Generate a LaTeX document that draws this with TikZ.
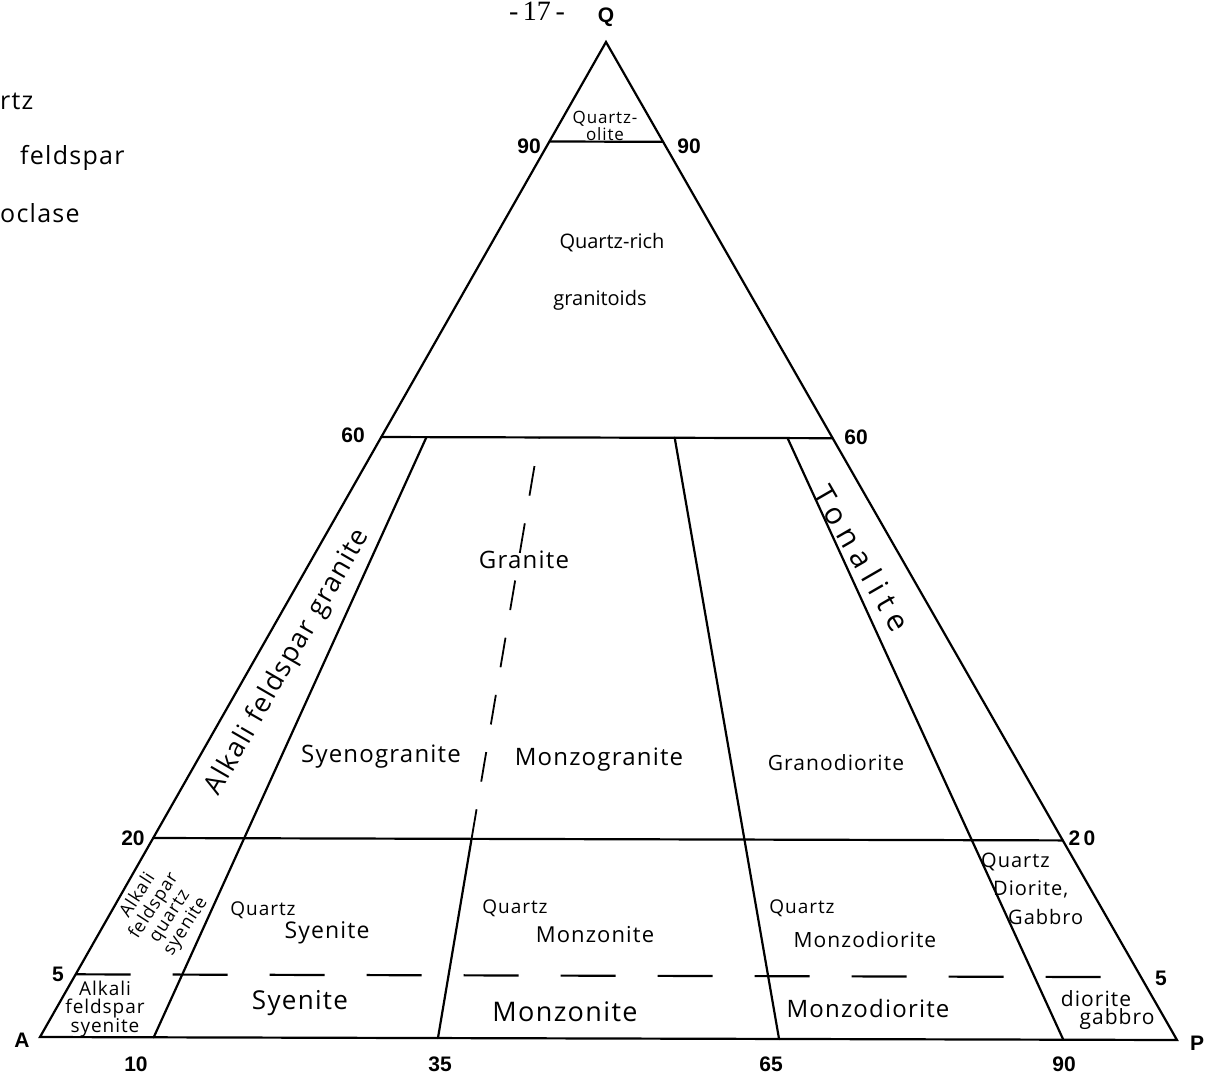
\documentclass[tikz,border=0pt]{standalone}
\usepackage{fontspec}
\setmainfont{Liberation Serif}
\newfontfamily\numfont{Liberation Sans}
\newfontfamily\handfont{Open Sans}
\newfontfamily\handsp[LetterSpace=5]{Open Sans}
\newfontfamily\handwide[LetterSpace=25]{Open Sans}
\usetikzlibrary{calc}
\newcommand\fs[1]{\fontsize{#1}{#1}\selectfont}
\newcommand\wsp{\hspace{0.35em}}
\begin{document}
\begin{tikzpicture}[x=1pt,y=-1pt,
  edge/.style={line width=2.2pt, line cap=round},
  num/.style={font=\numfont\bfseries\fs{21}, inner sep=0pt},
  hand/.style={font=\handfont\fs{20}, inner sep=0pt, align=center},
  sp/.style={font=\handsp\fontsize{#1}{#1}\selectfont, inner sep=0pt, align=center},
  legend/.style={font=\handsp\fs{25}, inner sep=0pt, anchor=west},
]
\useasboundingbox (0,0) rectangle (1209,1078);
% corners
\coordinate (A) at (40,1037);
\coordinate (P) at (1177,1040);
\coordinate (Q) at (606,42);
% levels on the sides
\coordinate (L90) at ($(A)!0.9!(Q)$);   \coordinate (R90) at ($(P)!0.9!(Q)$);
\coordinate (L60) at ($(A)!0.603!(Q)$); \coordinate (R60) at ($(P)!0.603!(Q)$);
\coordinate (L20) at ($(A)!0.2!(Q)$);   \coordinate (R20) at ($(P)!0.2!(Q)$);
\coordinate (L5)  at ($(A)!0.063!(Q)$); \coordinate (R5)  at ($(P)!0.063!(Q)$);
% base points and top points
\coordinate (B10) at ($(A)!0.1!(P)$);  \coordinate (T10) at ($(B10)!0.603!(Q)$);
\coordinate (B35) at ($(A)!0.35!(P)$); \coordinate (T35) at ($(B35)!0.603!(Q)$);
\coordinate (M35) at ($(B35)!0.2!(Q)$);
\coordinate (B65) at ($(A)!0.65!(P)$); \coordinate (T65) at ($(B65)!0.603!(Q)$);
\coordinate (B90) at ($(A)!0.9!(P)$);  \coordinate (T90) at ($(B90)!0.603!(Q)$);

% triangle
\draw[edge] (A) -- (Q) -- (P) -- cycle;
% horizontal lines
\draw[edge] (L90) -- (R90);
\draw[edge] (L60) -- (R60);
\draw[edge] (L20) -- (R20);
\draw[edge, line cap=butt, dash pattern=on 55pt off 42pt] (L5) -- (R5);
% radial lines
\draw[edge] (B10) -- (T10);
\draw[edge] (B35) -- (M35);
\draw[edge, line width=1.8pt, line cap=butt, dash pattern=on 30pt off 28pt] (M35) -- (T35);
\draw[edge] (B65) -- (T65);
\draw[edge] (B90) -- (T90);

% page number
\node[font=\fs{28}, inner sep=0pt] (pg) at (537,11) {-\,17\,-};

% legend (cut at the left edge)
\node[legend] (lg1) at (0,101) {rtz};
\node[legend] (lg2) at (20,158) {feldspar};
\node[legend] (lg3) at (0,213) {oclase};

% corner and scale labels
\node[num] (lQ) at (606,17) {Q};
\node[num] (lA) at (22,1040) {A};
\node[num] (lP) at (1197,1043) {P};
\node[num] (n90l) at (529,146) {90};
\node[num] (n90r) at (689,146) {90};
\node[num] (n60l) at (353,435) {60};
\node[num] (n60r) at (856,437) {60};
\node[num] (n20l) at (133,838) {20};
\node[num] (n20r) at (1082,838) {2\,0};
\node[num] (n5l) at (58,974) {5};
\node[num] (n5r) at (1161,978) {5};
\node[num] (b10) at (136,1064) {10};
\node[num] (b35) at (440,1064) {35};
\node[num] (b65) at (771,1064) {65};
\node[num] (b90) at (1064,1064) {90};

% field names
\node[sp=17, font=\handsp\fontsize{17}{17}\selectfont] (qolite) at (605,126) {Quartz-\\olite};
\node[hand] (qrich) at (612,243) {Quartz-rich};
\node[hand] (grt) at (600,300) {granitoids};
\node[sp=24] (granite) at (524,560) {Granite};
\node[sp=27, rotate=60] (afg) at (288,662) {Alkali\wsp feldspar\wsp granite};
\node[font=\handwide\fs{30}, inner sep=0pt, rotate=-60] (ton) at (862,558) {Tonalite};
\node[sp=24] (syg) at (381,757) {Syenogranite};
\node[sp=24] (mzg) at (599,760) {Monzogranite};
\node[sp=21] (grd) at (836,763) {Granodiorite};
\node[sp=18, font=\handsp\fontsize{18}{19}\selectfont, rotate=57] (afqs) at (162,911) {Alkali\\feldspar\\quartz\\syenite};
\node[sp=19, font=\handsp\fontsize{19}{18}\selectfont] (afs) at (105,1009) {Alkali\\feldspar\\syenite};
\node[sp=19] (qs1) at (263,910) {Quartz};
\node[sp=23] (qs2) at (327,933) {Syenite};
\node[sp=19] (qm1) at (515,908) {Quartz};
\node[sp=22] (qm2) at (595,935) {Monzonite};
\node[sp=19] (qmd1) at (802,908) {Quartz};
\node[sp=21] (qmd2) at (865,940) {Monzodiorite};
\node[sp=20, anchor=west] (qd1) at (981,862) {Quartz};
\node[sp=20, anchor=west] (qd2) at (993,889) {Diorite,};
\node[sp=20, anchor=west] (qd3) at (1008,917) {Gabbro};
\node[sp=26] (sy) at (300,1003) {Syenite};
\node[sp=27] (mz) at (565,1012) {Monzonite};
\node[sp=24] (mzd) at (868,1008) {Monzodiorite};
\node[sp=21] (dg1) at (1096,999) {diorite};
\node[sp=21] (dg2) at (1117,1019) {gabbro};
\end{tikzpicture}
\end{document}
